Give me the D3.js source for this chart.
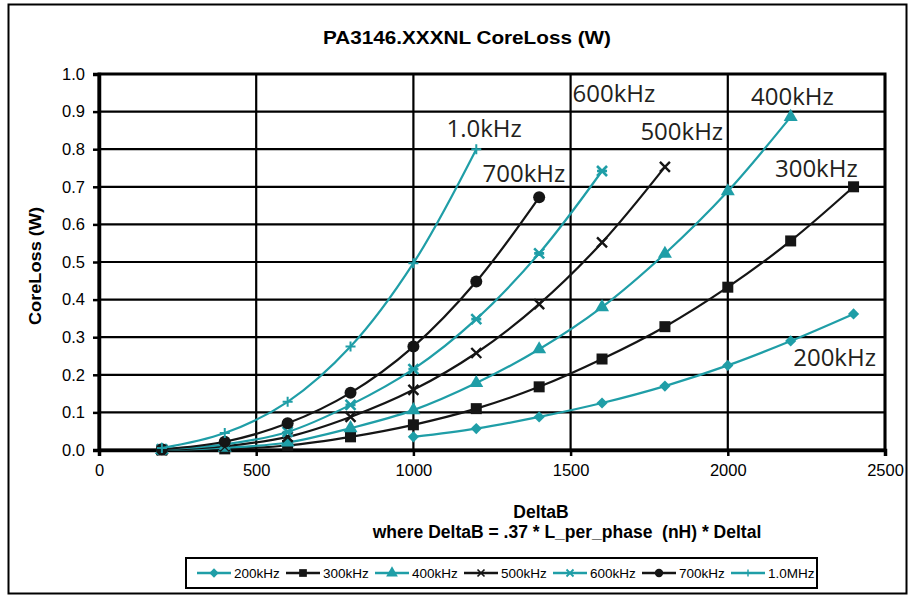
<!DOCTYPE html>
<html lang="en">
<head>
<meta charset="UTF-8">
<title>PA3146.XXXNL CoreLoss</title>
<style>
  body { margin: 0; background: #fff; }
  svg { display: block; }
  text { font-family: "Liberation Sans", Arial, sans-serif; }
</style>
</head>
<body>
<svg id="chart" width="914" height="597"></svg>
<script src="https://d3js.org/d3.v7.min.js"></script>
<script>

// DeltaB values (x) and core loss per frequency (W)
let deltaB = [200, 400, 600, 800, 1000, 1200, 1400, 1600, 1800, 2000, 2200, 2400];

let loss200k = [null, null, null, null, 0.035, 0.057, 0.088, 0.125, 0.17, 0.225, 0.29, 0.362];
let loss300k = [0.0, 0.003, 0.012, 0.035, 0.067, 0.11, 0.168, 0.242, 0.328, 0.433, 0.556, 0.70];
let loss400k = [0.0, 0.006, 0.02, 0.058, 0.106, 0.178, 0.268, 0.38, 0.522, 0.688, 0.886];
let loss500k = [0.0, 0.01, 0.035, 0.088, 0.16, 0.258, 0.388, 0.552, 0.753];
let loss600k = [0.002, 0.015, 0.048, 0.12, 0.215, 0.348, 0.523, 0.742];
let loss700k = [0.002, 0.022, 0.071, 0.152, 0.275, 0.448, 0.672];
let loss1M = [0.005, 0.045, 0.128, 0.275, 0.497, 0.80];

let seriesNames = ["200kHz", "300kHz", "400kHz", "500kHz", "600kHz", "700kHz", "1.0MHz"];
let seriesValues = [loss200k, loss300k, loss400k, loss500k, loss600k, loss700k, loss1M];
let seriesMarkers = ["diamond", "square", "triangle", "cross", "star", "circle", "plus"];

// labels written inside the plot (text, anchor x, anchor y)
let inlineLabels = [
    {text: "1.0kHz", x: 1105, y: 0.832},
    {text: "700kHz", x: 1220, y: 0.713},
    {text: "600kHz", x: 1506, y: 0.925},
    {text: "500kHz", x: 1722, y: 0.824},
    {text: "400kHz", x: 2074, y: 0.917},
    {text: "300kHz", x: 2150, y: 0.726},
    {text: "200kHz", x: 2208, y: 0.223}
];

let xTicks = [0, 500, 1000, 1500, 2000, 2500];
let yTicks = [0, 0.1, 0.2, 0.3, 0.4, 0.5, 0.6, 0.7, 0.8, 0.9, 1.0];

let teal = "#1f9ea7";
let dark = "#151515";
let seriesColors = [teal, dark, teal, dark, teal, dark, teal];

let svg = d3.select("#chart");

// outer frame
svg.append("rect")
    .attr("x", 8.5).attr("y", 4.5)
    .attr("width", 898).attr("height", 589)
    .attr("fill", "none").attr("stroke", "#000").attr("stroke-width", 2);

let margin = {top: 74, left: 99, right: 29, bottom: 147};
let width = 914 - margin.left - margin.right,
    height = 597 - margin.top - margin.bottom;

let chart = svg.append("g")
    .attr("transform", "translate(" + margin.left + "," + margin.top + ")");

let xScale = d3.scaleLinear().domain([0, 2500]).range([0, width]);
let yScale = d3.scaleLinear().domain([0, 1.0]).range([height, 0]);

// grid
chart.append("g")
    .selectAll("line.h")
    .data(yTicks)
    .enter()
    .append("line")
    .attr("x1", 0).attr("x2", width)
    .attr("y1", d => yScale(d)).attr("y2", d => yScale(d))
    .attr("stroke", "#000").attr("stroke-width", 2.2);

chart.append("g")
    .selectAll("line.v")
    .data(xTicks)
    .enter()
    .append("line")
    .attr("x1", d => xScale(d)).attr("x2", d => xScale(d))
    .attr("y1", 0).attr("y2", height)
    .attr("stroke", "#000").attr("stroke-width", 2.2);

// axes
let yAxis = chart.append("g")
    .call(d3.axisLeft(yScale).tickValues(yTicks).tickFormat(d3.format(".1f")).tickSize(6).tickPadding(8));
let xAxis = chart.append("g")
    .attr("transform", "translate(0," + height + ")")
    .call(d3.axisBottom(xScale).tickValues(xTicks).tickFormat(d3.format("d")).tickSize(6).tickPadding(8));

[yAxis, xAxis].forEach(a => {
    a.select(".domain").attr("stroke", "#000").attr("stroke-width", 3.5);
    a.selectAll(".tick line").attr("stroke", "#000").attr("stroke-width", 2.5);
    a.selectAll(".tick text")
        .attr("fill", "#000")
        .style("font-size", "16.5px")
        .style("font-family", "'Liberation Sans', Arial, sans-serif");
});

// plot border top/right
chart.append("rect")
    .attr("x", 0).attr("y", 0).attr("width", width).attr("height", height)
    .attr("fill", "none").attr("stroke", "#000").attr("stroke-width", 3);

// markers
function drawMarker(g, type, color, s) {
    s = s || 1;
    if (type == "diamond") {
        g.append("path").attr("d", d3.symbol().type(d3.symbolDiamond2).size(80 * s)).attr("fill", color);
    } else if (type == "square") {
        g.append("rect").attr("x", -5.5 * s).attr("y", -5.5 * s).attr("width", 11 * s).attr("height", 11 * s).attr("fill", color);
    } else if (type == "triangle") {
        g.append("path").attr("d", d3.symbol().type(d3.symbolTriangle).size(85 * s)).attr("fill", color);
    } else if (type == "cross") {
        g.append("path").attr("d", "M-5,-5L5,5M-5,5L5,-5").attr("transform", "scale(" + s + ")")
            .attr("stroke", color).attr("stroke-width", 2.4).attr("fill", "none");
    } else if (type == "star") {
        g.append("path").attr("d", "M-5,-5L5,5M-5,5L5,-5M-5,0L5,0").attr("transform", "scale(" + s + ")")
            .attr("stroke", color).attr("stroke-width", 2.6).attr("fill", "none");
    } else if (type == "circle") {
        g.append("circle").attr("r", 6 * s).attr("fill", color);
    } else if (type == "plus") {
        g.append("path").attr("d", "M-5,0L5,0M0,-5L0,5").attr("transform", "scale(" + s + ")")
            .attr("stroke", color).attr("stroke-width", 2).attr("fill", "none");
    }
}

let line = d3.line()
    .defined(d => d[1] != null)
    .x(d => xScale(d[0]))
    .y(d => yScale(d[1]))
    .curve(d3.curveCatmullRom.alpha(0.5));

seriesValues.forEach((vals, i) => {
    let pts = vals.map((v, j) => [deltaB[j], v]).filter(p => p[1] != null);
    chart.append("path")
        .datum(pts)
        .attr("d", line)
        .attr("fill", "none")
        .attr("stroke", seriesColors[i])
        .attr("stroke-width", 2.2);
    chart.append("g")
        .selectAll("g")
        .data(pts)
        .enter()
        .append("g")
        .attr("transform", d => "translate(" + xScale(d[0]) + "," + yScale(d[1]) + ")")
        .each(function () { drawMarker(d3.select(this), seriesMarkers[i], seriesColors[i]); });
});

// in-plot labels
chart.selectAll("text.lbl")
    .data(inlineLabels)
    .enter()
    .append("text")
    .attr("x", d => xScale(d.x))
    .attr("y", d => yScale(d.y))
    .style("font-family", "'Open Sans', 'Noto Sans', sans-serif")
    .style("font-size", "24px")
    .attr("fill", "#231f20")
    .text(d => d.text);

// titles
svg.append("text")
    .attr("x", 467).attr("y", 44)
    .attr("text-anchor", "middle")
    .attr("textLength", 288).attr("lengthAdjust", "spacingAndGlyphs")
    .style("font-size", "18px").style("font-weight", "bold")
    .text("PA3146.XXXNL CoreLoss (W)");

svg.append("text")
    .attr("transform", "translate(41," + (margin.top + height / 2 + 4) + ") rotate(-90)")
    .attr("text-anchor", "middle")
    .attr("textLength", 118).attr("lengthAdjust", "spacingAndGlyphs")
    .style("font-size", "17px").style("font-weight", "bold")
    .text("CoreLoss (W)");

svg.append("text")
    .attr("x", 541).attr("y", 518)
    .attr("text-anchor", "middle")
    .style("font-size", "17.5px").style("font-weight", "bold")
    .text("DeltaB");

svg.append("text")
    .attr("x", 567).attr("y", 538)
    .attr("text-anchor", "middle")
    .style("font-size", "17.5px").style("font-weight", "bold")
    .attr("xml:space", "preserve")
    .text("where DeltaB = .37 * L_per_phase  (nH) * Deltal");

// legend
let legend = svg.append("g");
legend.append("rect")
    .attr("x", 186).attr("y", 558).attr("width", 631).attr("height", 30)
    .attr("fill", "#fff").attr("stroke", "#000").attr("stroke-width", 2);

let legendX = d3.scaleLinear().domain([0, 6]).range([197, 731]);
let items = legend.selectAll("g.item")
    .data(seriesNames)
    .enter()
    .append("g")
    .attr("transform", (d, i) => "translate(" + legendX(i) + ",573)");

items.append("line")
    .attr("x1", 0).attr("x2", 34).attr("y1", 0).attr("y2", 0)
    .attr("stroke", (d, i) => seriesColors[i]).attr("stroke-width", 2.5);
items.each(function (d, i) {
    let m = d3.select(this).append("g").attr("transform", "translate(17,0)");
    drawMarker(m, seriesMarkers[i], seriesColors[i], 0.7);
});
items.append("text")
    .attr("x", 37).attr("y", 5)
    .style("font-size", "13.5px")
    .attr("fill", "#000")
    .text(d => d);

</script>
</body>
</html>
